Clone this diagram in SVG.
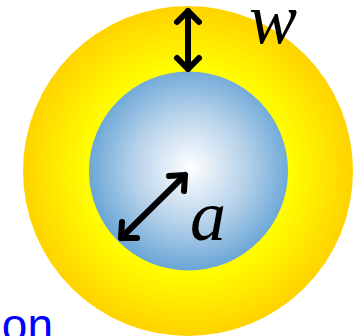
<svg xmlns="http://www.w3.org/2000/svg" width="354" height="336" viewBox="0 0 354 336">
<style>
.arrow{fill:none;stroke:#000;stroke-width:6;stroke-linecap:round;stroke-linejoin:round}
.lbl{font-family:"Liberation Serif","Times New Roman",serif;font-style:italic;font-size:72px;fill:#000}
.blue{font-family:"Liberation Sans",Arial,sans-serif;font-size:46px;fill:#0000FF}
</style>
<defs>
<radialGradient id="gy" gradientUnits="userSpaceOnUse" cx="188" cy="171" r="166">
<stop offset="0.6" stop-color="#FFFF00"/>
<stop offset="1" stop-color="#FFD200"/>
</radialGradient>
<radialGradient id="gb" gradientUnits="userSpaceOnUse" cx="190" cy="168" r="102">
<stop offset="0" stop-color="#FFFFFF"/>
<stop offset="0.55" stop-color="#B6D2EA"/>
<stop offset="1" stop-color="#6AA6D6"/>
</radialGradient>
</defs>
<g id="outer"><circle cx="188" cy="171" r="165" fill="url(#gy)"/></g>
<g id="inner"><circle cx="188.5" cy="171" r="99.5" fill="url(#gb)"/></g>
<g id="connectors">
<path class="arrow" d="M188,11 L188,69"/>
<path class="arrow" d="M177,22 L188,11 L199,22"/>
<path class="arrow" d="M177,58 L188,69 L199,58"/>
<path class="arrow" d="M185,175 L121,238"/>
<path class="arrow" d="M169,176 L185,175 L184,191"/>
<path class="arrow" d="M122,222 L121,238 L137,238"/>
</g>
<text class="lbl" x="249" y="43">w</text>
<text class="lbl" x="190" y="240">a</text>
<text class="blue" x="53" y="341" text-anchor="end">on</text>
</svg>
